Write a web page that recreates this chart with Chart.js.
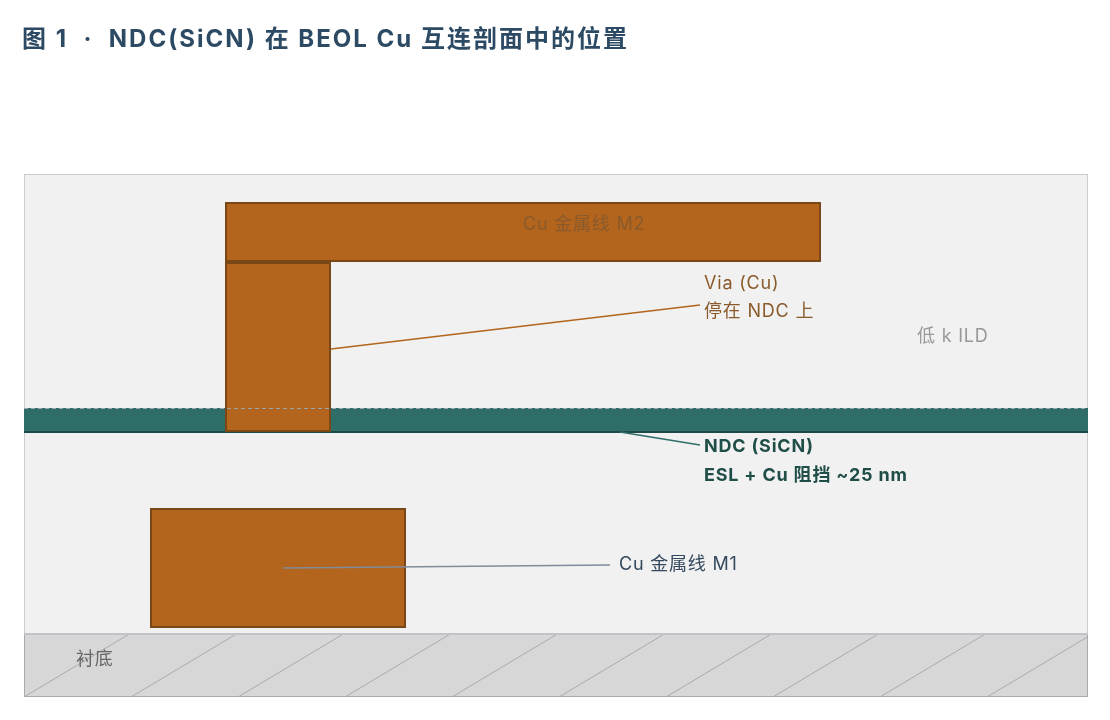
<!DOCTYPE html>
<html><head><meta charset="utf-8">
<script src="https://cdn.jsdelivr.net/npm/chart.js@4"></script>
<style>body{margin:0;background:#fff;font-family:Inter,"Noto Sans CJK SC",sans-serif}
#t{position:absolute;left:22px;top:19px;font-size:24px;letter-spacing:2px;font-weight:bold;color:#2c4a63;font-family:Inter,"Noto Sans CJK SC",sans-serif;white-space:pre}
#w{position:absolute;left:0;top:0;width:1110px;height:720px}</style></head>
<body><div id="w"><canvas id="c" width="1110" height="720"></canvas></div>
<div id="t">图 1  ·  NDC(SiCN) 在 BEOL Cu 互连剖面中的位置</div>
<script>
// coordinates: x px from plot left (24), y px from plot top (174)
const layerNames=["ILD","衬底","NDC"];
const layerY=[[0,459],[459,523],[234,258]];
const cuNames=["M2","Via","M1"];
const cuX=[[201,797],[201,307],[126,382]];
const cuY=[[28,88],[88,258],[334,454]];
const labels=["Cu 金属线 M2","Via (Cu)","停在 NDC 上","低 k ILD","NDC (SiCN)","ESL + Cu 阻挡 ~25 nm","Cu 金属线 M1","衬底"];
const labelPos=[[499,51],[680,110],[680,138],[893,163],[680,273],[680,302],[595,391],[52,486]];
const leaderVia=[[307,175],[676,131]];
const leaderNDC=[[596,258],[676,271]];
const leaderM1=[[259,394],[586,391]];
const pt=a=>a.map(p=>({x:p[0],y:p[1]}));
const draw={id:'draw',beforeDatasetsDraw(ch){const c=ch.ctx,X=ch.scales.x,Y=ch.scales.y;
 const R=(x0,x1,y0,y1)=>[X.getPixelForValue(x0),Y.getPixelForValue(y0),X.getPixelForValue(x1)-X.getPixelForValue(x0),Y.getPixelForValue(y1)-Y.getPixelForValue(y0)];
 c.save();
 let r=R(0,1064,layerY[0][0],layerY[0][1]);c.fillStyle='#f1f1f1';c.fillRect(...r);c.strokeStyle='#cccccc';c.lineWidth=1;c.strokeRect(r[0]+.5,r[1]+.5,r[2]-1,r[3]);
 r=R(0,1064,layerY[1][0],layerY[1][1]);c.fillStyle='#d7d7d7';c.fillRect(...r);c.strokeStyle='#aaaaaa';c.strokeRect(r[0]+.5,r[1]+.5,r[2]-1,r[3]-1);
 c.save();c.beginPath();c.rect(...r);c.clip();c.strokeStyle='#aaaaaa';c.lineWidth=1;
 for(let k=0;k<12;k++){const x0=X.getPixelForValue(k*107);c.beginPath();c.moveTo(x0,r[1]+r[3]);c.lineTo(x0+107,r[1]);c.stroke();}
 c.restore();
 c.strokeStyle='#c0c4c8';c.lineWidth=2;c.beginPath();c.moveTo(r[0],r[1]+1);c.lineTo(r[0]+r[2],r[1]+1);c.stroke();
 r=R(0,1064,layerY[2][0],layerY[2][1]);c.fillStyle='#2f6d69';c.fillRect(...r);
 c.strokeStyle='#1d4a46';c.lineWidth=2;c.beginPath();c.moveTo(r[0],r[1]+r[3]);c.lineTo(r[0]+r[2],r[1]+r[3]);c.stroke();
 for(let i=0;i<3;i++){r=R(cuX[i][0],cuX[i][1],cuY[i][0],cuY[i][1]);c.fillStyle='#b3651e';c.fillRect(...r);c.strokeStyle='#7a4816';c.lineWidth=2;c.strokeRect(r[0]+1,r[1]+1,r[2]-2,r[3]-2);}
 r=R(0,1064,layerY[2][0],layerY[2][1]);c.setLineDash([4,3]);c.strokeStyle='#9aa6b0';c.lineWidth=1;c.beginPath();c.moveTo(r[0],r[1]+.5);c.lineTo(r[0]+r[2],r[1]+.5);c.stroke();c.setLineDash([]);
 c.restore();},
 afterDatasetsDraw(ch){const c=ch.ctx,X=ch.scales.x,Y=ch.scales.y;
 const st=[['#8a5a2b','normal'],['#8a5a2b','normal'],['#8a5a2b','normal'],['#999999','normal'],['#1f4d47','bold'],['#1f4d47','bold'],['#34495e','normal'],['#666666','normal']];
 c.save();c.textBaseline='middle';c.letterSpacing='0.8px';
 labels.forEach((s,i)=>{c.fillStyle=st[i][0];c.font=st[i][1]+' 18px Inter,"Noto Sans CJK SC",sans-serif';c.fillText(s,X.getPixelForValue(labelPos[i][0]),Y.getPixelForValue(labelPos[i][1]));});
 c.restore();}};
new Chart(document.getElementById('c'),{type:'scatter',
 data:{datasets:[
  {data:pt(leaderVia),showLine:true,borderColor:'#b3651e',borderWidth:1.5,pointRadius:0},
  {data:pt(leaderNDC),showLine:true,borderColor:'#2f6d69',borderWidth:1.5,pointRadius:0},
  {data:pt(leaderM1),showLine:true,borderColor:'#7f8c9a',borderWidth:1.5,pointRadius:0}]},
 options:{responsive:false,animation:false,devicePixelRatio:1,
  layout:{padding:{left:24,right:22,top:174,bottom:23}},
  plugins:{legend:{display:false},tooltip:{enabled:false}},
  scales:{x:{type:'linear',min:0,max:1064,display:false},y:{type:'linear',min:0,max:523,reverse:true,display:false}}},
 plugins:[draw]});
</script></body></html>
